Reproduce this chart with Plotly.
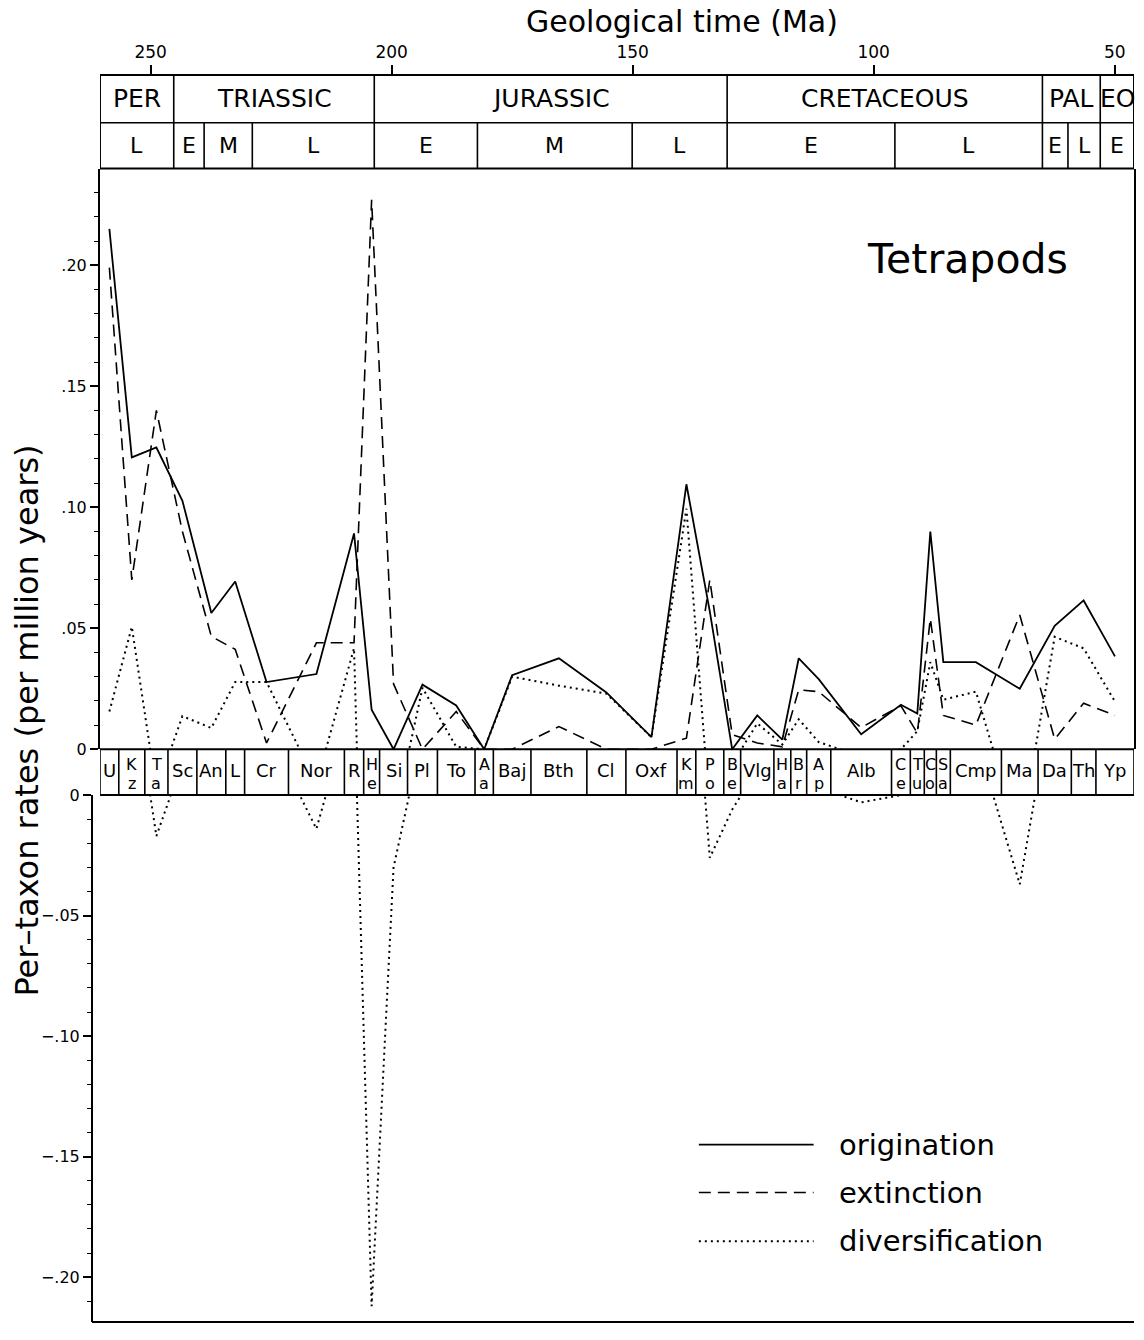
import plotly.graph_objects as go

# ---------------- data ----------------
stages = ["U", "Kz", "Ta", "Sc", "An", "L", "Cr", "Nor", "R", "He", "Si", "Pl", "To", "Aa",
          "Baj", "Bth", "Cl", "Oxf", "Km", "Po", "Be", "Vlg", "Ha", "Br", "Ap", "Alb", "Ce",
          "Tu", "Co", "Sa", "Cmp", "Ma", "Da", "Th", "Yp"]
# older (base) boundary of each stage, Ma
stage_base = [260.5, 256.6, 251.2, 246.4, 240.4, 234.4, 230.5, 221.4, 209.8, 205.8, 202.5,
              196.7, 190.5, 182.7, 178.9, 171.1, 159.5, 151.4, 140.8, 136.9, 131.1, 127.6,
              120.7, 117.2, 113.9, 108.9, 96.3, 92.4, 89.5, 87.0, 84.1, 73.5, 65.9, 59.0, 53.9]
stage_end = 46.0
# stages whose two-letter label is stacked vertically in the stage row
stacked = ["Kz", "Ta", "He", "Aa", "Km", "Po", "Be", "Ha", "Br", "Ap", "Ce", "Tu", "Co", "Sa"]

origination = [0.215, 0.1206, 0.1247, 0.1027, 0.0563, 0.0693, 0.0278, 0.0311, 0.0892, 0.0164,
               0.0, 0.0267, 0.0181, 0.0, 0.0306, 0.0376, 0.0235, 0.005, 0.1095, 0.057, 0.0,
               0.014, 0.004, 0.0376, 0.029, 0.0062, 0.0184, 0.0148, 0.090, 0.036, 0.036,
               0.025, 0.051, 0.0615, 0.0384]
extinction = [0.199, 0.070, 0.140, 0.090, 0.0466, 0.0413, 0.0026, 0.044, 0.044, 0.227,
              0.027, 0.0, 0.0156, 0.0, 0.0, 0.0094, 0.0, 0.0, 0.0046, 0.070, 0.006,
              0.0026, 0.001, 0.0246, 0.0238, 0.009, 0.018, 0.0067, 0.054, 0.014, 0.010,
              0.0555, 0.0042, 0.019, 0.014]
diversification = [0.0156, 0.0506, -0.017, 0.0137, 0.0088, 0.0278, 0.0278, -0.014, 0.0417,
                    -0.212, -0.030, 0.0254, 0.001, 0.0, 0.030, 0.0263, 0.023, 0.005, 0.0994,
                    -0.026, -0.006, 0.0107, 0.002, 0.0124, 0.003, -0.003, 0.0, 0.0075, 0.036,
                    0.0205, 0.0238, -0.037, 0.0465, 0.0417, 0.0197]

periods = ["PER", "TRIASSIC", "JURASSIC", "CRETACEOUS", "PAL", "EO"]
period_bounds = [260.5, 245.2, 203.6, 130.4, 65.0, 53.0, 46.0]
epochs = ["L", "E", "M", "L", "E", "M", "L", "E", "L", "E", "L", "E"]
epoch_bounds = [260.5, 245.2, 238.9, 228.9, 203.6, 182.2, 150.1, 130.4, 95.6, 65.0, 59.7,
                53.0, 46.0]

time_ticks = [250, 200, 150, 100, 50]
upper_ticks = [0, 0.05, 0.10, 0.15, 0.20]
upper_tick_text = ["0", ".05", ".10", ".15", ".20"]
lower_ticks = [0, -0.05, -0.10, -0.15, -0.20]
lower_tick_text = ["0", "\u2212.05", "\u2212.10", "\u2212.15", "\u2212.20"]

legend_labels = ["origination", "extinction", "diversification"]

# ---------------- layout geometry ----------------
W, H = 1144, 1340
ML, MR, MT, MB = 90, 8, 75, 13
PW, PH = W - ML - MR, H - MT - MB
FONT = "DejaVu Sans"


def px_x(p):
    return (p - ML) / PW


def px_y(p):
    return (H - MB - p) / PH


Y_TOP, Y_ZERO_UP, Y_ZERO_LO, Y_BOT = 169, 752, 798, 1327
SCALE_UP, SCALE_LO = 2430.0, 2420.0
HDR_TOP, HDR_MID = 75, 123

stage_top = stage_base[1:] + [stage_end]
mid = [(a + b) / 2 for a, b in zip(stage_base, stage_top)]

fig = go.Figure()
line_o = dict(color="black", width=1.8)
line_e = dict(color="black", width=1.6, dash="12px,7px")
line_d = dict(color="black", width=2.0, dash="2px,4px")

fig.add_trace(go.Scatter(x=mid, y=origination, mode="lines", line=line_o,
                         name="origination", xaxis="x", yaxis="y", showlegend=False))
fig.add_trace(go.Scatter(x=mid, y=extinction, mode="lines", line=line_e,
                         name="extinction", xaxis="x", yaxis="y", showlegend=False))
fig.add_trace(go.Scatter(x=mid, y=diversification, mode="lines", line=line_d,
                         name="diversification", xaxis="x", yaxis="y", showlegend=False))
fig.add_trace(go.Scatter(x=mid, y=diversification, mode="lines", line=line_d,
                         name="diversification", xaxis="x", yaxis="y2", showlegend=False))

shapes = []
annos = []


def text(x, y, s, size, xref="paper", **kw):
    d = dict(x=x, y=y, xref=xref, yref="paper", text=s, showarrow=False,
             xanchor="center", yanchor="middle",
             font=dict(family=FONT, size=size, color="black"))
    d.update(kw)
    annos.append(d)


def vline(xv, p0, p1, w=1.6):
    shapes.append(dict(type="line", xref="x", yref="paper", x0=xv, x1=xv,
                       y0=px_y(p0), y1=px_y(p1), line=dict(color="black", width=w)))


def hline(p, xa, xb, w=1.6):
    shapes.append(dict(type="line", xref="x", yref="paper", x0=xa, x1=xb,
                       y0=px_y(p), y1=px_y(p), line=dict(color="black", width=w)))


# header boxes
vline(period_bounds[0], HDR_TOP, Y_TOP, 2)
vline(period_bounds[-1], HDR_TOP, Y_TOP, 2)
hline(HDR_MID, period_bounds[0], period_bounds[-1], 1.6)
hline(Y_TOP, period_bounds[0], period_bounds[-1], 2)
for b in period_bounds[1:-1]:
    vline(b, HDR_TOP, HDR_MID, 1.6)
for b in epoch_bounds[1:-1]:
    vline(b, HDR_MID, Y_TOP, 1.6)
for i, name in enumerate(periods):
    text((period_bounds[i] + period_bounds[i + 1]) / 2, px_y(99), name, 25, xref="x")
for i, name in enumerate(epochs):
    text((epoch_bounds[i] + epoch_bounds[i + 1]) / 2, px_y(146), name, 22, xref="x")

# stage row
hline(Y_ZERO_UP, stage_base[0], stage_end, 2)
hline(Y_ZERO_LO, stage_base[0], stage_end, 2)
for b in stage_base + [stage_end]:
    vline(b, Y_ZERO_UP, Y_ZERO_LO, 1.6)
for name, xm in zip(stages, mid):
    if name in stacked:
        text(xm, px_y(767), name[0], 16, xref="x")
        text(xm, px_y(786), name[1], 16, xref="x")
    else:
        text(xm, px_y(773), name, 18, xref="x")

# bottom frame line
shapes.append(dict(type="line", xref="paper", yref="paper", x0=px_x(92), x1=1, y0=0, y1=0,
                   line=dict(color="black", width=2)))

# legend (drawn manually)
leg_y = [1149, 1197, 1246]
leg_styles = [line_o, line_e, line_d]
for lab, yy, st in zip(legend_labels, leg_y, leg_styles):
    shapes.append(dict(type="line", xref="paper", yref="paper", x0=px_x(700), x1=px_x(815),
                       y0=px_y(yy), y1=px_y(yy), line=st))
    text(px_x(838), px_y(yy), lab, 29, xanchor="left")

# texts
text(px_x(969), px_y(260), "Tetrapods", 41)
text(px_x(683), px_y(21), "Geological time (Ma)", 30)
text(px_x(27), px_y(723), "Per\u2013taxon rates (per million years)", 32, textangle=-90)

axis_common = dict(showgrid=False, zeroline=False, showline=True, linecolor="black",
                   linewidth=2, ticks="outside", tickcolor="black", tickwidth=1.5,
                   tickfont=dict(family=FONT, size=16, color="black"))
fig.update_layout(
    width=W, height=H,
    margin=dict(l=ML, r=MR, t=MT, b=MB, pad=0),
    paper_bgcolor="white", plot_bgcolor="white",
    showlegend=False,
    xaxis=dict(domain=[px_x(100), 1.0], range=[260.5, 46.0], side="top", anchor="free",
               position=1.0, showgrid=False, zeroline=False, showline=True,
               linecolor="black", linewidth=2, ticks="outside", ticklen=9,
               tickcolor="black", tickwidth=1.5, tickvals=time_ticks,
               tickfont=dict(family=FONT, size=17, color="black")),
    yaxis=dict(domain=[px_y(Y_ZERO_UP), px_y(Y_TOP)],
               range=[0, (Y_ZERO_UP - Y_TOP) / SCALE_UP], anchor="x", mirror=True,
               tickvals=upper_ticks, ticktext=upper_tick_text, ticklen=8,
               minor=dict(ticks="outside", ticklen=4, tickwidth=1.2, tickcolor="black",
                          dtick=0.01, tick0=0, showgrid=False),
               **axis_common),
    yaxis2=dict(domain=[0, px_y(Y_ZERO_LO)],
                range=[-(Y_BOT - Y_ZERO_LO) / SCALE_LO, 0], anchor="free",
                position=px_x(92),
                tickvals=lower_ticks, ticktext=lower_tick_text, ticklen=8,
                minor=dict(ticks="outside", ticklen=4, tickwidth=1.2, tickcolor="black",
                           dtick=0.01, tick0=0, showgrid=False),
                **axis_common),
    shapes=shapes,
    annotations=annos,
)

fig.write_html("out.html")
